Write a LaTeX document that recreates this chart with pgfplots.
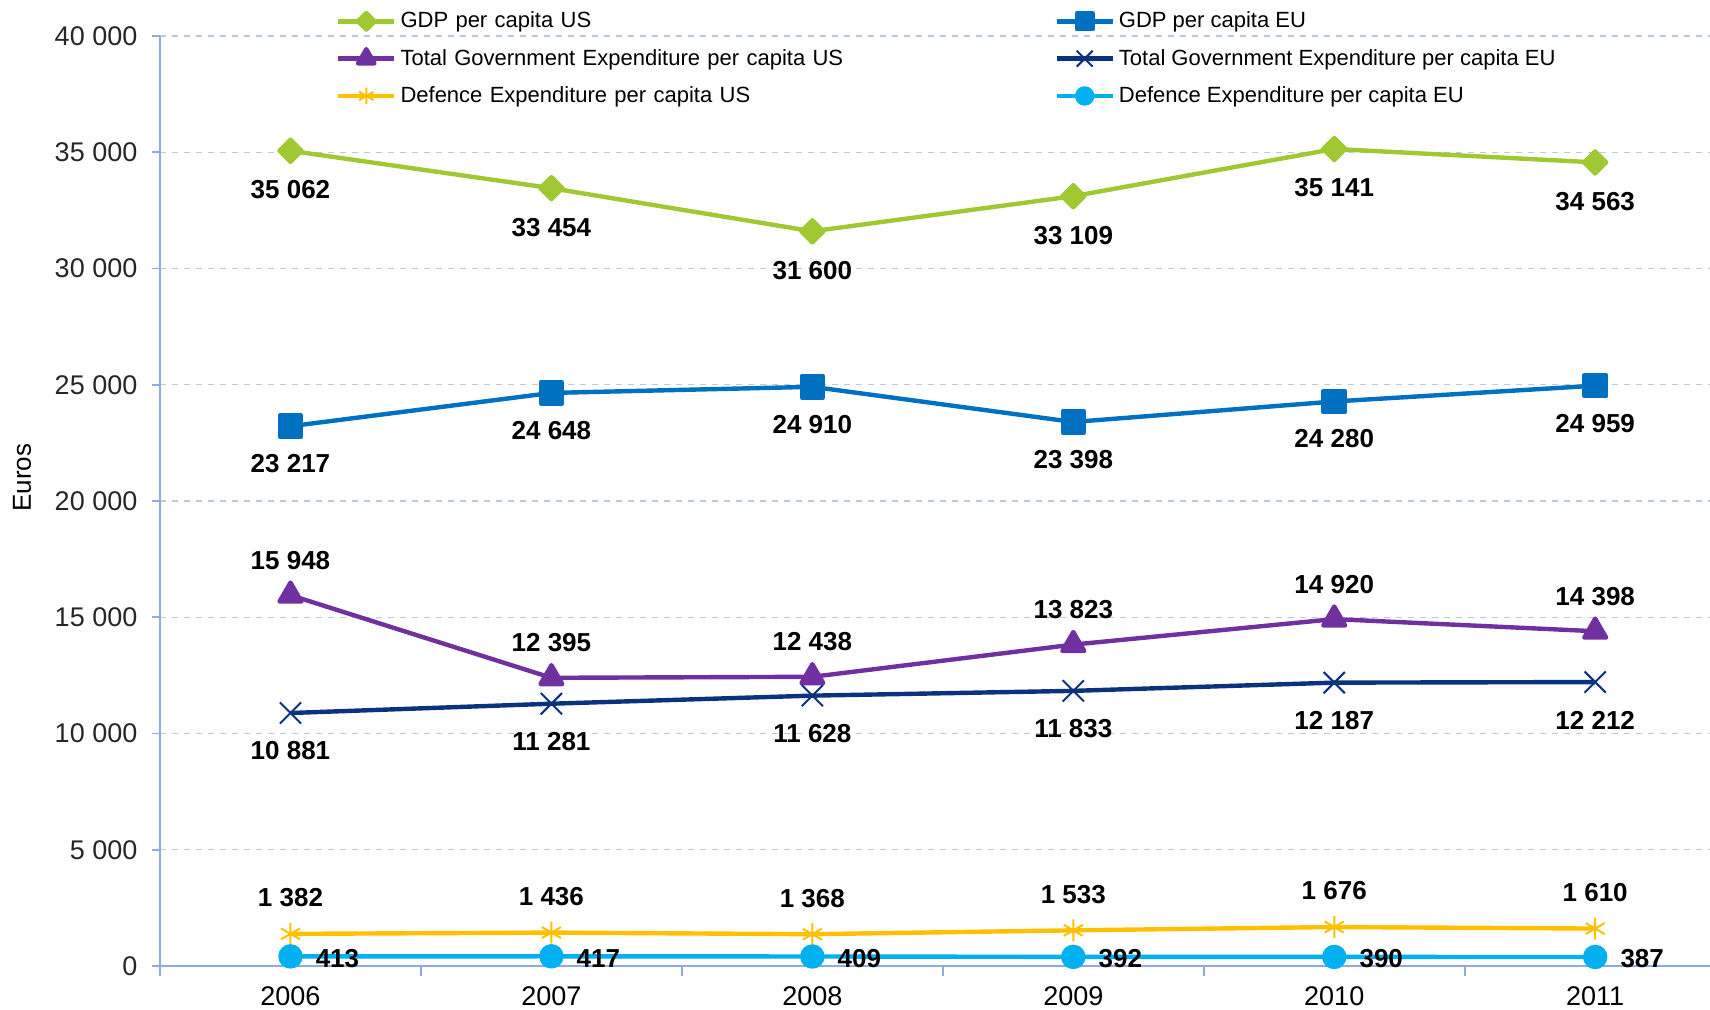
\documentclass[border=0pt]{standalone}
\usepackage{fontspec}
\setmainfont{Liberation Sans}
\usepackage{pgfplots}
\pgfplotsset{compat=1.18}
\definecolor{cgreen}{RGB}{160,200,50}
\definecolor{cblue}{RGB}{0,112,192}
\definecolor{cpurple}{RGB}{112,48,160}
\definecolor{cnavy}{RGB}{10,50,125}
\definecolor{cyellow}{RGB}{255,192,0}
\definecolor{ccyan}{RGB}{0,176,240}
\definecolor{axiscol}{RGB}{143,170,220}
\definecolor{gridcol}{RGB}{185,200,230}
\pgfplotsset{
  lbl/.style={
    nodes near coords={\pgfmathprintnumber[fixed,precision=0,1000 sep={\ },assume math mode=true]{\pgfplotspointmeta}},
    point meta=y,
    every node near coord/.append style={font=\fontsize{13}{15}\selectfont\bfseries, text=black, anchor=center, inner sep=0pt, #1}},
}
\begin{document}
\begin{tikzpicture}
\begin{axis}[
  at={(80pt,22pt)}, anchor=south west,
  scale only axis, width=775pt, height=465pt,
  xmin=-0.5, xmax=5.44, ymin=0, ymax=40000,
  axis x line*=bottom, axis y line*=left,
  axis line style={draw=axiscol, line width=0.8pt},
  xtick={0,1,2,3,4,5}, xticklabels={2006,2007,2008,2009,2010,2011},
  minor xtick={-0.5,0.5,1.5,2.5,3.5,4.5},
  major x tick style={draw=none},
  minor x tick style={draw=axiscol, line width=0.8pt},
  minor tick length=5pt,
  major tick length=4pt,
  tick align=outside,
  ytick={0,5000,10000,15000,20000,25000,30000,35000,40000},
  y tick style={draw=axiscol, line width=0.8pt},
  ymajorgrids, grid style={draw=gridcol, dashed, line width=0.6pt},
  scaled y ticks=false,
  yticklabel style={/pgf/number format/.cd, fixed, precision=0, 1000 sep={\ }, assume math mode=true, /tikz/.cd, xshift=-3.8pt},
  tick label style={font=\fontsize{13.5}{15}\selectfont, text=black!85},
  xticklabel style={font=\fontsize{13.5}{15}\selectfont, text=black, yshift=-3pt},
  ylabel={Euros},
  every axis y label/.style={at={(rel axis cs:-0.089,0.525)}, rotate=90, anchor=center, font=\fontsize{13}{15}\selectfont},
  clip=false,
  legend columns=2,
  legend cell align=left,
  legend style={draw=none, fill=none, at={(rel axis cs:0.1095,1.035)}, anchor=north west,
    font=\fontsize{11}{13}\selectfont, row sep=5.2pt,
    /tikz/every even column/.append style={column sep=0pt},
    /tikz/column 2/.append style={text width=325pt}},
  legend image code/.code={\draw[mark repeat=2,mark phase=2,#1,every mark/.append style={scale=0.75}] plot coordinates {(0pt,0pt) (14pt,0pt) (28pt,0pt)};},
  every axis plot/.append style={line width=2.2pt, line join=round},
]
\addplot[color=cgreen, mark=square*, mark size=3.9pt, mark options={rotate=45, solid}, lbl={yshift=-19.5pt}]
  coordinates {(0,35062) (1,33454) (2,31600) (3,33109) (4,35141) (5,34563)};
\addlegendentry{GDP per capita US}
\addplot[color=cblue, mark=square*, mark size=5.3pt, mark options={solid}, lbl={yshift=-18.75pt}]
  coordinates {(0,23217) (1,24648) (2,24910) (3,23398) (4,24280) (5,24959)};
\addlegendentry{GDP per capita EU}
\addplot[color=cpurple, mark=triangle*, mark size=6.3pt, mark options={solid}, lbl={yshift=17.5pt}]
  coordinates {(0,15948) (1,12395) (2,12438) (3,13823) (4,14920) (5,14398)};
\addlegendentry{Total Government Expenditure per capita US}
\addplot[color=cnavy, mark=x, mark size=7.5pt, mark options={solid, line width=1pt}, lbl={yshift=-19pt}]
  coordinates {(0,10881) (1,11281) (2,11628) (3,11833) (4,12187) (5,12212)};
\addlegendentry{Total Government Expenditure per capita EU}
\addplot[color=cyellow, mark=asterisk, mark size=5.5pt, mark options={solid, line width=1pt}, lbl={yshift=18pt}]
  coordinates {(0,1382) (1,1436) (2,1368) (3,1533) (4,1676) (5,1610)};
\addlegendentry{Defence Expenditure per capita US}
\addplot[color=ccyan, mark=*, mark size=5pt, mark options={solid}, lbl={xshift=23.5pt, yshift=-1pt}]
  coordinates {(0,413) (1,417) (2,409) (3,392) (4,390) (5,387)};
\addlegendentry{Defence Expenditure per capita EU}
\end{axis}
\pgfresetboundingbox
\path[use as bounding box] (0,0) rectangle (855pt,505pt);
\end{tikzpicture}
\end{document}
